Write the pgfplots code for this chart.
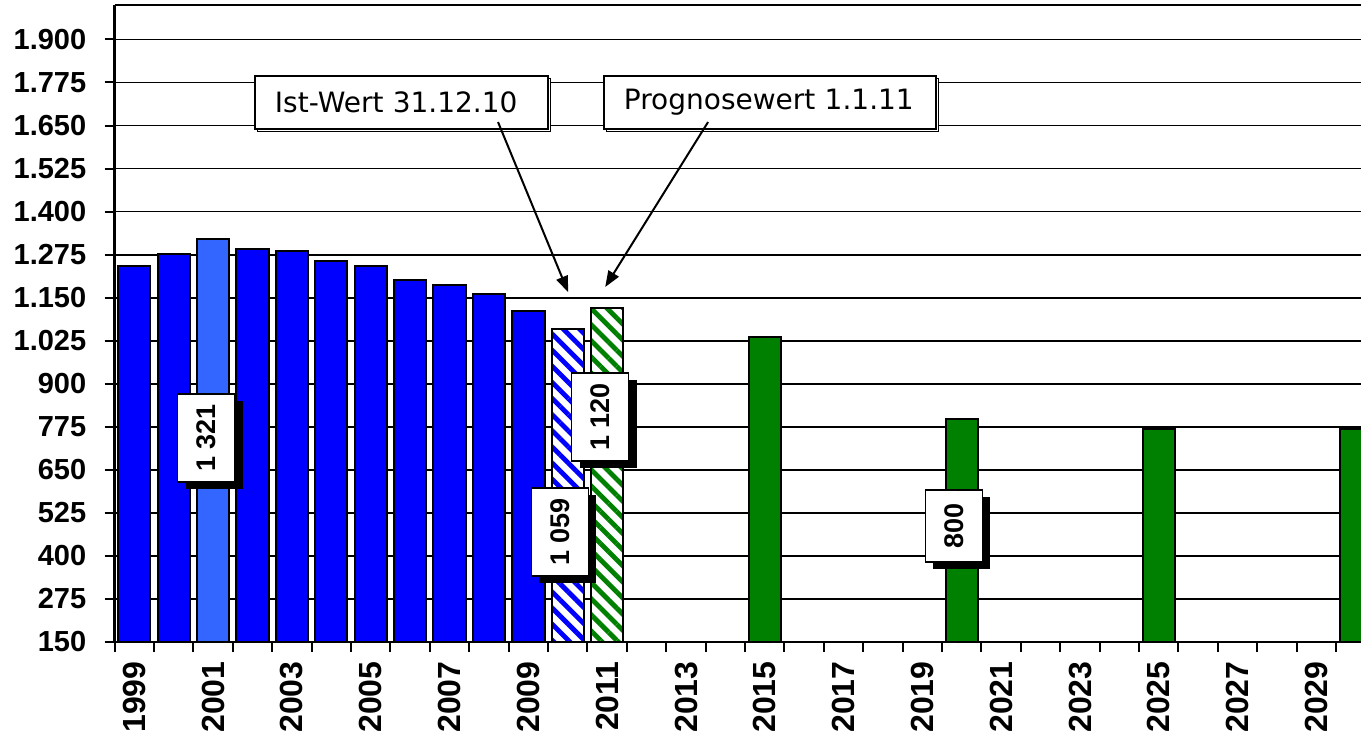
\documentclass[border=0pt]{standalone}
\usepackage{fontspec}
\setmainfont{Liberation Sans}
\newfontfamily\verd{DejaVu Sans}
\usepackage{pgfplots}
\pgfplotsset{compat=1.18}
\usetikzlibrary{patterns.meta,arrows.meta,shadows}
\definecolor{barblue}{RGB}{0,0,255}
\definecolor{lightblue}{RGB}{51,102,255}
\definecolor{bargreen}{RGB}{0,128,0}

\begin{document}
\begin{tikzpicture}[
  vlab/.style={draw=black, fill=white, line width=0.8bp, rotate=90, inner sep=0pt,
    minimum height=28.5bp, font=\fontsize{13.5bp}{15bp}\selectfont\bfseries,
    drop shadow={shadow xshift=4bp, shadow yshift=-3.5bp, opacity=1, fill=black}},
  note/.style={draw=black, fill=white, line width=0.8bp, inner xsep=10bp, inner ysep=0pt,
    minimum height=26.5bp, align=left, font=\verd\fontsize{14bp}{16bp}\selectfont,
    drop shadow={shadow xshift=1.2bp, shadow yshift=-1.2bp, opacity=1, fill=white, draw=black, line width=0.6bp}}
]
\begin{axis}[
  scale only axis, width=623.2bp, height=318.5bp,
  xmin=1998.5, xmax=2030.13, ymin=150, ymax=2000,
  axis lines*=left,
  axis line style={line width=1.1bp},
  tick align=outside,
  major tick length=5bp,
  tick style={black, line width=1bp},
  ytick={150,275,...,1900},
  ymajorgrids, major grid style={black, line width=0.9bp},
  xtick={1998.5,1999.5,...,2030.5},
  xticklabels={,,},
  extra x ticks={1999,2001,...,2029},
  extra x tick labels={1999,2001,2003,2005,2007,2009,2011,2013,2015,2017,2019,2021,2023,2025,2027,2029},
  extra x tick style={tick style={draw=none}},
  /pgf/number format/assume math mode=true,
  xticklabel style={yshift=-4.5bp, rotate=90, anchor=east, inner sep=0pt,
    font=\fontsize{16bp}{18bp}\selectfont\bfseries},
  yticklabel style={/pgf/number format/1000 sep={.}, inner sep=0pt, xshift=-9bp,
    font=\fontsize{14.5bp}{16bp}\selectfont\bfseries},
]
\addplot[ybar, bar width=0.82, bar shift=0pt, draw=black, line width=1bp, fill=barblue]
  coordinates {(1999,1242) (2000,1278) (2002,1292) (2003,1285) (2004,1256)
               (2005,1242) (2006,1201) (2007,1187) (2008,1160) (2009,1111)};
\addplot[ybar, bar width=0.82, bar shift=0pt, draw=black, line width=1bp, fill=lightblue]
  coordinates {(2001,1321)};
\addplot[ybar, bar width=0.82, bar shift=0pt, draw=black, line width=1bp, fill=white,
  postaction={pattern color=barblue, pattern={Lines[angle=-45,distance=5.7bp,line width=2.4bp]}}]
  coordinates {(2010,1059)};
\addplot[ybar, bar width=0.82, bar shift=0pt, draw=black, line width=1bp, fill=white,
  postaction={pattern color=bargreen, pattern={Lines[angle=-45,distance=5.7bp,line width=2.4bp]}}]
  coordinates {(2011,1120)};
\addplot[ybar, bar width=0.82, bar shift=0pt, draw=black, line width=1bp, fill=bargreen]
  coordinates {(2015,1035) (2020,797) (2025,770) (2030,770)};

\node[vlab, minimum width=44bp] at (axis cs:2000.82,742) {1 321};
\node[vlab, minimum width=44bp] at (axis cs:2009.80,469) {1 059};
\node[vlab, minimum width=44bp] at (axis cs:2010.82,803) {1 120};
\node[vlab, minimum width=36bp] at (axis cs:2019.80,487) {800};

\node[note, text width=126.5bp] at (axis cs:2005.78,1716.5) {Ist-Wert 31.12.10};
\node[note, text width=146bp] at (axis cs:2015.13,1716.5) {Prognosewert 1.1.11};

\draw[line width=1bp, -{Triangle[length=8bp,width=6bp]}]
  (axis cs:2008.23,1660) -- (axis cs:2010.01,1166);
\draw[line width=1bp, -{Triangle[length=8bp,width=6bp]}]
  (axis cs:2013.56,1660) -- (axis cs:2010.95,1181);
\end{axis}
\draw[line width=1.1bp] (current axis.north west) -- (current axis.north east);
\pgfresetboundingbox
\path[use as bounding box] (-57.3bp,-45.5bp) rectangle (623.2bp,321bp);
\end{tikzpicture}
\end{document}
